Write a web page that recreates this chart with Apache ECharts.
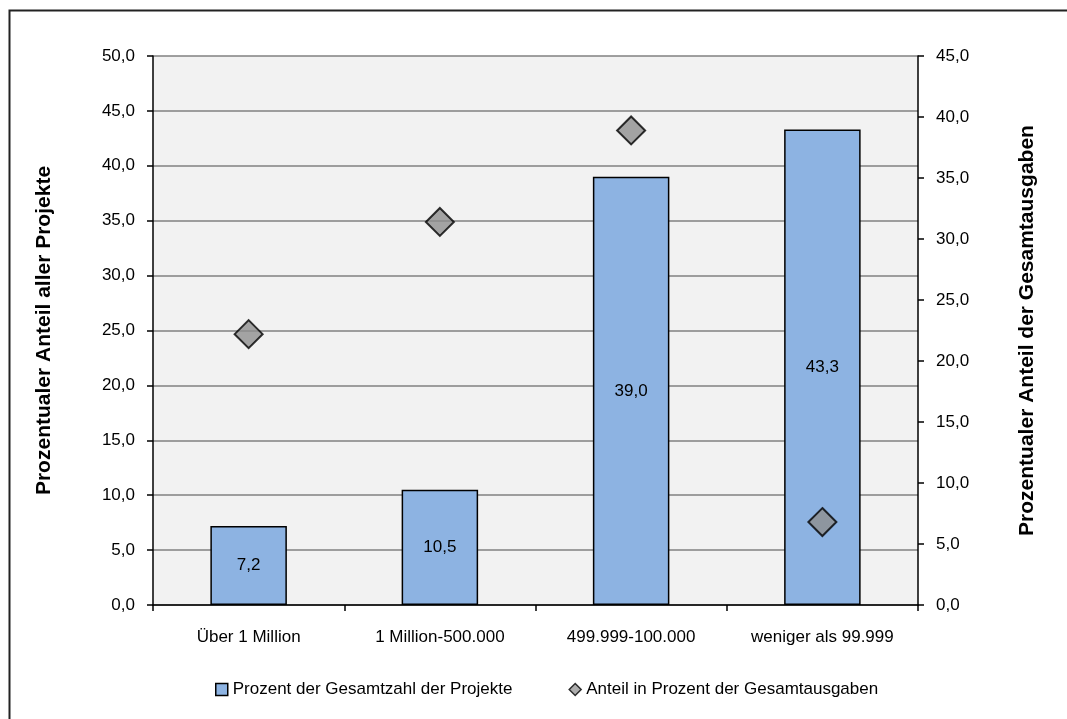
<!DOCTYPE html>
<html><head><meta charset="utf-8">
<script src="https://cdn.jsdelivr.net/npm/echarts@6/dist/echarts.min.js"></script>
<style>html,body{margin:0;padding:0;background:#fff;}#c{width:1067px;height:719px;}</style>
</head><body><div id="c"></div>
<script>
const categories = ["Über 1 Million", "1 Million-500.000", "499.999-100.000", "weniger als 99.999"];
const projectShare = [7.2, 10.5, 39.0, 43.3];
const spendingShare = [22.2, 31.4, 38.9, 6.8];
const seriesNames = ["Prozent der Gesamtzahl der Projekte", "Anteil in Prozent der Gesamtausgaben"];
const leftAxisName = "Prozentualer Anteil aller Projekte";
const rightAxisName = "Prozentualer Anteil der Gesamtausgaben";

const FONT = '"Liberation Sans", Arial, sans-serif';
const fmt = v => v.toFixed(1).replace('.', ',');

const chart = echarts.init(document.getElementById('c'), null, {renderer: 'canvas'});
chart.setOption({
  animation: false,
  backgroundColor: '#fff',
  textStyle: {fontFamily: FONT},
  graphic: [{
    type: 'rect', silent: true, z: -10,
    shape: {x: 9.5, y: 10.5, width: 1100, height: 800},
    style: {fill: 'none', stroke: '#222', lineWidth: 2}
  }],
  grid: {left: 153, right: 149, top: 56, bottom: 114, show: true, backgroundColor: '#f2f2f2', borderWidth: 0},
  legend: {
    bottom: 16, left: 210, itemGap: 56, itemWidth: 12, itemHeight: 12,
    textStyle: {fontFamily: FONT, fontSize: 17, color: '#000'},
    data: [
      {name: seriesNames[0], icon: 'rect', itemStyle: {color: '#8db3e2', borderColor: '#000', borderWidth: 1.5}},
      {name: seriesNames[1], icon: 'diamond', itemStyle: {color: '#999', borderColor: '#000', borderWidth: 1.5}}
    ]
  },
  xAxis: {
    type: 'category', data: categories,
    axisLine: {lineStyle: {color: '#000', width: 1.5}},
    axisTick: {show: true, length: 6, lineStyle: {color: '#000', width: 1.5}},
    axisLabel: {fontFamily: FONT, fontSize: 17, color: '#000', margin: 24}
  },
  yAxis: [{
    type: 'value', min: 0, max: 50, interval: 5, position: 'left',
    name: leftAxisName, nameLocation: 'middle', nameGap: 98, nameRotate: 90,
    nameTextStyle: {fontFamily: FONT, fontSize: 21, fontWeight: 'bold', color: '#000'},
    axisLine: {show: true, lineStyle: {color: '#000', width: 1.5}},
    axisTick: {show: true, length: 6, lineStyle: {color: '#000', width: 1.5}},
    axisLabel: {fontFamily: FONT, fontSize: 17, color: '#000', margin: 18, formatter: fmt},
    splitLine: {show: true, lineStyle: {color: '#808080', width: 1.5}}
  }, {
    type: 'value', min: 0, max: 45, interval: 5, position: 'right',
    name: rightAxisName, nameLocation: 'middle', nameGap: 99, nameRotate: 90,
    nameTextStyle: {fontFamily: FONT, fontSize: 21, fontWeight: 'bold', color: '#000'},
    axisLine: {show: true, lineStyle: {color: '#000', width: 1.5}},
    axisTick: {show: true, length: 6, lineStyle: {color: '#000', width: 1.5}},
    axisLabel: {fontFamily: FONT, fontSize: 17, color: '#000', margin: 18, formatter: fmt},
    splitLine: {show: false}
  }],
  series: [{
    name: seriesNames[0], type: 'bar', yAxisIndex: 0, data: projectShare, barWidth: '40%',
    itemStyle: {color: '#8db3e2', borderColor: '#000', borderWidth: 1.5},
    label: {show: true, position: 'inside', fontFamily: FONT, fontSize: 17, color: '#000', formatter: p => fmt(p.value)}
  }, {
    name: seriesNames[1], type: 'scatter', yAxisIndex: 1, data: spendingShare,
    symbol: 'diamond', symbolSize: 28,
    itemStyle: {color: '#8f8f8f', borderColor: '#000', borderWidth: 2}
  }]
});
</script></body></html>
